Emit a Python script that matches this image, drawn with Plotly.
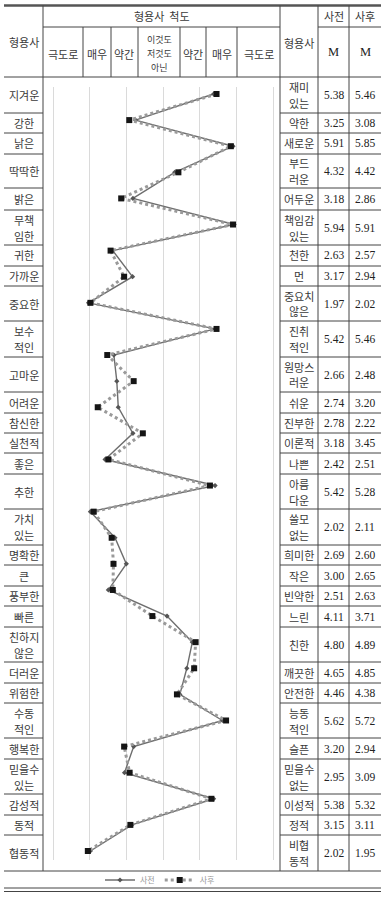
import plotly.graph_objects as go

W, H = 381, 899

# ---------------- data ----------------
left_labels = ["지겨운", "강한", "낡은", "딱딱한", "밝은", "무책\n임한", "귀한", "가까운", "중요한",
               "보수\n적인", "고마운", "어려운", "참신한", "실천적", "좋은", "추한", "가치\n있는",
               "명확한", "큰", "풍부한", "빠른", "친하지\n않은", "더러운", "위험한", "수동\n적인",
               "행복한", "믿을수\n있는", "감성적", "동적", "협동적"]
right_labels = ["재미\n있는", "약한", "새로운", "부드\n러운", "어두운", "책임감\n있는", "천한", "먼",
                "중요치\n않은", "진취\n적인", "원망스\n러운", "쉬운", "진부한", "이론적", "나쁜",
                "아름\n다운", "쓸모\n없는", "희미한", "작은", "빈약한", "느린", "친한", "깨끗한",
                "안전한", "능동\n적인", "슬픈", "믿을수\n없는", "이성적", "정적", "비협\n동적"]
pre_mean = [5.38, 3.25, 5.91, 4.32, 3.18, 5.94, 2.63, 3.17, 1.97, 5.42, 2.66, 2.74, 2.78, 3.18, 2.42,
            5.42, 2.02, 2.69, 3.00, 2.51, 4.11, 4.80, 4.65, 4.46, 5.62, 3.20, 2.95, 5.38, 3.15, 2.02]
post_mean = [5.46, 3.08, 5.85, 4.42, 2.86, 5.91, 2.57, 2.94, 2.02, 5.46, 2.48, 3.20, 2.22, 3.45, 2.51,
             5.28, 2.11, 2.60, 2.65, 2.63, 3.71, 4.89, 4.85, 4.38, 5.72, 2.94, 3.09, 5.32, 3.11, 1.95]
scale_labels = ["극도로", "매우", "약간", "이것도\n저것도\n아닌", "약간", "매우", "극도로"]
scale_ticks = [1, 2, 3, 4, 5, 6, 7]
series_names = ["사전", "사후"]

# ---------------- layout constants (pixels) ----------------
row_edges = [77, 113, 133, 154, 188, 210, 245, 266, 286, 321, 357, 392, 413, 433, 453, 474, 509,
             545, 565, 586, 606, 627, 662, 683, 703, 738, 759, 794, 815, 835, 871]
scale_col_edges = [43, 83, 111, 138, 180, 206, 237, 280]
X_LEFT, X_C1, X_C2, X_C3, X_C4, X_RIGHT = 4, 43, 280, 318, 349, 381

KR = "Noto Sans CJK KR"
NUM = "Liberation Serif"
TXT = "#3a3a3a"
LINE = "#444444"


def px(x):
    return x / W


def py(y):
    return 1 - y / H


cats = [s.replace("\n", "") for s in left_labels]

fig = go.Figure()
fig.add_trace(go.Scatter(
    x=pre_mean, y=cats, mode="lines+markers", name=series_names[0],
    line=dict(color="#6e6e6e", width=1.4),
    marker=dict(symbol="diamond", size=4, color="#555555"),
))
fig.add_trace(go.Scatter(
    x=post_mean, y=cats, mode="lines+markers", name=series_names[1],
    line=dict(color="#9a9a9a", width=3, dash="dot"),
    marker=dict(symbol="square", size=6, color="#151515"),
))

shapes = []


def hline(y, x0, x1, w=1, color=LINE):
    shapes.append(dict(type="line", xref="paper", yref="paper", x0=px(x0), x1=px(x1),
                       y0=py(y), y1=py(y), line=dict(color=color, width=w)))


def vline(x, y0, y1, w=1, color=LINE):
    shapes.append(dict(type="line", xref="paper", yref="paper", x0=px(x), x1=px(x),
                       y0=py(y0), y1=py(y1), line=dict(color=color, width=w)))


annots = []


def text(t, xc, yc, size=11, family=KR, color=TXT, spacing=16):
    lines = t.split("\n")
    n = len(lines)
    for i, ln in enumerate(lines):
        y = yc + (i - (n - 1) / 2) * spacing
        annots.append(dict(x=px(xc), y=py(y), xref="paper", yref="paper", text=ln,
                           showarrow=False, xanchor="center", yanchor="middle", borderpad=0,
                           font=dict(size=size, family=family, color=color)))


# table frame
hline(5.5, X_LEFT, X_RIGHT, w=2.5, color="#555555")
hline(27, X_C1, X_C2)
hline(27, X_C3, X_RIGHT)
hline(77, X_LEFT, X_RIGHT)
for e in scale_col_edges[1:-1]:
    vline(e, 27, 77)
for x in (X_C1, X_C2, X_C3, X_C4):
    vline(x, 5.5, 871)
for e in row_edges[1:-1]:
    hline(e, X_LEFT, X_C1)
    hline(e, X_C2, X_RIGHT)
hline(871, X_LEFT, X_RIGHT)
hline(888, X_LEFT, X_RIGHT)
hline(891.5, X_LEFT, X_RIGHT)

# header text
text("형용사", 24, 42)
text("형용사  척도", (X_C1 + X_C2) / 2, 16)
text("형용사", (X_C2 + X_C3) / 2, 43)
text(series_names[0], (X_C3 + X_C4) / 2, 16)
text(series_names[1], (X_C4 + X_RIGHT) / 2, 16)
text("M", (X_C3 + X_C4) / 2, 52, size=12.5, family=NUM, color="#222")
text("M", (X_C4 + X_RIGHT) / 2, 52, size=12.5, family=NUM, color="#222")
for i, lab in enumerate(scale_labels):
    xc = (scale_col_edges[i] + scale_col_edges[i + 1]) / 2
    multi = "\n" in lab
    text(lab, xc, 53.5, size=9 if multi else 11, spacing=13.5)

# body text
for i in range(len(left_labels)):
    yc = (row_edges[i] + row_edges[i + 1]) / 2
    text(left_labels[i], 24, yc)
    text(right_labels[i], (X_C2 + X_C3) / 2, yc)
    text(f"{pre_mean[i]:.2f}", (X_C3 + X_C4) / 2, yc, size=11.5, family=NUM, color="#222")
    text(f"{post_mean[i]:.2f}", (X_C4 + X_RIGHT) / 2, yc, size=11.5, family=NUM, color="#222")

# chart geometry: value 1 at x=53px, 7 at 273px; first category at y=94px, last at 851px
unit_x = (273 - 53) / 6
unit_y = (851 - 94) / 29
x_range = [1 - (53 - X_C1) / unit_x, 1 + (X_C2 - 53) / unit_x]
y_top, y_bot = 87, 860
y_range = [(y_bot - 94) / unit_y, (y_top - 94) / unit_y]

fig.update_layout(
    width=W, height=H,
    margin=dict(l=0, r=0, t=0, b=0),
    paper_bgcolor="white", plot_bgcolor="white",
    shapes=shapes, annotations=annots,
    xaxis=dict(domain=[px(X_C1), px(X_C2)], range=x_range, tickvals=scale_ticks,
               showticklabels=False, showgrid=True, gridcolor="#dadada", gridwidth=1,
               zeroline=False, showline=False, ticks="", fixedrange=True),
    yaxis=dict(domain=[py(y_bot), py(y_top)], type="category", categoryorder="array",
               categoryarray=cats, range=y_range, showticklabels=False, showgrid=False,
               zeroline=False, showline=False, ticks="", fixedrange=True),
    showlegend=True,
    legend=dict(orientation="h", x=px(160), y=py(880), xanchor="center", yanchor="middle",
                font=dict(size=8, family=KR, color="#999999"), bgcolor="rgba(0,0,0,0)",
                itemwidth=30, tracegroupgap=0),
)

fig.write_html("out.html")
